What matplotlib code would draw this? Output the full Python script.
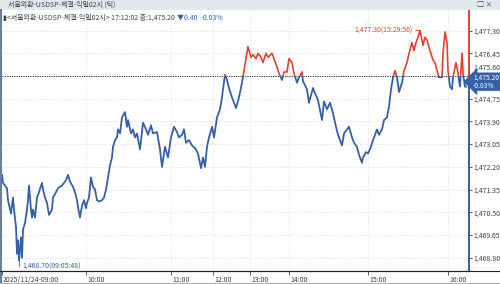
import matplotlib
matplotlib.use('Agg')
import matplotlib.pyplot as plt
from matplotlib.patches import Rectangle
from matplotlib.lines import Line2D
from matplotlib.transforms import ScaledTranslation

plt.rcParams['font.family'] = ['Noto Sans CJK KR', 'DejaVu Sans']

BLUE = '#3560a8'
RED = '#e5412d'
DARK = '#404040'

title = '서울외환-USDSP-체결-익일02시 (틱)'
info = '▮<서울외환-USDSP-체결-익일02시> 17:12:02 종:1,475.20'
change = '▼0.40  -0.03%'

# tick sequence number (x) and traded price
seq = [0, 1, 5, 6, 9, 11, 12, 14, 15, 16, 17, 19, 20, 21, 23, 25, 26, 27, 29, 30,
       31, 33, 35, 37, 40, 41, 43, 45, 47, 50, 51, 54, 56, 60, 62, 64, 66, 68, 71, 73,
       75, 76, 78, 80, 82, 84, 85, 87, 89, 91, 93, 95, 97, 100, 102, 104, 106, 108, 110, 111,
       113, 115, 116, 118, 120, 123, 125, 126, 129, 131, 133, 135, 138, 141, 144, 146, 149, 151, 155, 158,
       160, 163, 166, 169, 172, 175, 177, 180, 182, 184, 187, 190, 193, 196, 199, 201, 203, 205, 207, 210,
       212, 215, 218, 220, 221, 223, 225, 227, 230, 234, 237, 240, 242, 245, 246, 249, 251, 254, 256, 259,
       261, 264, 266, 270, 272, 275, 277, 280, 282, 285, 287, 290, 292, 295, 297, 300, 301, 305, 307, 311,
       313, 316, 320, 322, 325, 328, 331, 334, 336, 340, 342, 345, 347, 350, 352, 355, 357, 360, 361, 364,
       366, 369, 371, 375, 377, 380, 382, 385, 387, 389, 391, 393, 395, 397, 400, 402, 405, 407, 410, 412,
       414, 416, 418, 421, 423, 425, 428, 431, 433, 435, 437, 440, 441, 443, 445, 446, 448, 450, 451, 454,
       456, 458, 460, 461, 463, 464]
price = [1471.90, 1471.60, 1471.40, 1470.95, 1470.45, 1471.05, 1470.60, 1469.95, 1468.95, 1469.45,
         1468.70, 1469.55, 1468.80, 1469.85, 1470.10, 1470.60, 1470.95, 1471.50, 1470.60, 1470.30,
         1470.60, 1470.30, 1471.05, 1471.25, 1471.60, 1471.35, 1471.05, 1470.85, 1470.40, 1470.60,
         1471.05, 1471.25, 1471.40, 1471.50, 1471.60, 1471.70, 1471.90, 1471.65, 1471.45, 1471.25,
         1470.95, 1470.70, 1470.30, 1470.75, 1470.95, 1470.65, 1470.85, 1471.05, 1471.80, 1471.45,
         1471.35, 1470.95, 1470.90, 1470.95, 1471.05, 1471.35, 1471.80, 1472.25, 1472.55, 1472.95,
         1473.20, 1473.30, 1473.60, 1473.45, 1474.05, 1474.25, 1473.70, 1473.95, 1473.45, 1473.60,
         1473.30, 1473.45, 1472.85, 1473.85, 1473.60, 1473.40, 1473.75, 1473.45, 1473.50, 1472.85,
         1472.20, 1472.95, 1472.55, 1473.30, 1473.70, 1473.50, 1473.30, 1473.40, 1473.60, 1473.10,
         1473.20, 1473.00, 1472.90, 1472.70, 1472.15, 1472.55, 1472.20, 1472.95, 1473.30, 1473.70,
         1473.30, 1474.05, 1474.35, 1474.80, 1475.10, 1475.65, 1475.45, 1475.15, 1474.80, 1474.40,
         1474.80, 1475.35, 1475.80, 1476.50, 1476.70, 1476.30, 1476.40, 1476.25, 1476.45, 1476.30,
         1476.10, 1476.45, 1476.30, 1476.45, 1476.25, 1475.95, 1475.70, 1475.45, 1475.75, 1475.75,
         1476.25, 1476.10, 1475.70, 1475.35, 1475.55, 1475.75, 1475.40, 1475.10, 1474.60, 1475.15,
         1474.95, 1474.70, 1473.95, 1474.65, 1474.35, 1474.60, 1474.20, 1473.70, 1473.40, 1473.00,
         1473.45, 1473.60, 1473.70, 1473.30, 1473.10, 1472.95, 1472.65, 1472.35, 1472.55, 1472.75,
         1472.70, 1472.95, 1473.20, 1473.60, 1473.40, 1473.60, 1473.95, 1474.05, 1474.45, 1475.10,
         1475.55, 1475.80, 1475.55, 1475.00, 1475.35, 1475.80, 1476.10, 1476.45, 1476.85, 1476.55,
         1476.85, 1477.05, 1477.30, 1476.75, 1477.05, 1476.95, 1476.55, 1476.20, 1476.10, 1475.80,
         1475.55, 1475.55, 1476.45, 1477.25, 1476.85, 1475.80, 1475.20, 1475.10, 1475.55, 1476.10,
         1475.70, 1475.20, 1476.45, 1475.70, 1475.20, 1475.20]

prev_close = 1475.60
hour_pos = [0, 84, 169, 211, 248, 287, 366, 446]
hour_labels = ['2025/11/24-09:00', '10:00', '11:00', '12:00', '13:00', '14:00', '15:00', '16:00']
y_ticks = [1468.80, 1469.65, 1470.50, 1471.35, 1472.20, 1473.05, 1473.90,
           1474.75, 1475.60, 1476.45, 1477.30]
max_label = '1,477.30(15:29:56)'
min_label = '1,468.70(09:05:48)'
last_label = '1,475.20\n-0.03%'

y_lo, y_hi = 1468.30, 1478.07
x_lo, x_hi = 0, 467

fig = plt.figure(figsize=(5, 2.84), dpi=100)
ax = fig.add_axes([2 / 500, 13 / 284, 467 / 500, 261 / 284])
ax.set_xlim(x_lo, x_hi)
ax.set_ylim(y_lo, y_hi)

# title bar
fig.patches.append(Rectangle((0, 1 - 10 / 284), 1, 10 / 284, transform=fig.transFigure,
                             facecolor='#e3e8ee', edgecolor='none'))
fig.text(8 / 500, 1 - 5 / 284, title, fontsize=5, color=DARK, va='center')
fig.text(0.985, 1 - 5 / 284, '□ ×', fontsize=5, color=DARK, va='center', ha='right')
fig.add_artist(Line2D([0.002, 0.002], [0, 1 - 10 / 284], color='#6a7fa0', lw=1.5))

# grid
for v in y_ticks:
    ax.axhline(v, color='#d6d6d6', lw=0.6, ls=(0, (1, 2)), zorder=0)
for p in hour_pos[1:]:
    ax.axvline(p, color='#d6d6d6', lw=0.6, ls=(0, (1, 2)), zorder=0)
ax.axhline(prev_close, color='#333333', lw=0.7, ls=(0, (1.2, 1.2)), zorder=1)

# price line, red above previous close, blue below
up_clip = Rectangle((x_lo - 5, prev_close), x_hi + 10, y_hi - prev_close + 5, transform=ax.transData)
dn_clip = Rectangle((x_lo - 5, y_lo - 5), x_hi + 10, prev_close - y_lo + 5, transform=ax.transData)
blue_line, = ax.plot(seq, price, color=BLUE, lw=1.3, zorder=3)
red_line, = ax.plot(seq, price, color=RED, lw=1.2, zorder=3)
blue_line.set_clip_path(dn_clip)
red_line.set_clip_path(up_clip)

# right edge line
ax.plot([x_hi, x_hi], [prev_close, y_hi], color=RED, lw=1.4, clip_on=False, zorder=4)
ax.plot([x_hi, x_hi], [y_lo, prev_close], color=BLUE, lw=1.4, clip_on=False, zorder=4)

# axes
for s in ['top', 'left', 'right']:
    ax.spines[s].set_visible(False)
ax.spines['bottom'].set_color('#222222')
ax.spines['bottom'].set_linewidth(0.8)
fig.add_artist(Line2D([0, 1], [13 / 284, 13 / 284], color='#222222', lw=0.8))
fig.add_artist(Line2D([0, 1], [1 / 284, 1 / 284], color='#b0b0b0', lw=0.8))

ax.set_xticks(hour_pos)
ax.set_xticklabels(hour_labels, ha='left', fontsize=5, color=DARK)
ax.tick_params(axis='x', direction='out', length=3, width=0.6, pad=0.5, color='#444444')
for lbl in ax.get_xticklabels():
    lbl.set_transform(lbl.get_transform() + ScaledTranslation(1 / 100, 0, fig.dpi_scale_trans))

ax.yaxis.tick_right()
ax.set_yticks(y_ticks)
ax.set_yticklabels(['{:,.2f}'.format(v) for v in y_ticks], fontsize=5, color=DARK)
ax.tick_params(axis='y', direction='out', length=2, width=0.6, pad=1, color='#444444')
for v, lbl in zip(y_ticks, ax.get_yticklabels()):
    if v == prev_close:
        lbl.set_transform(lbl.get_transform() + ScaledTranslation(0, 9 / 100, fig.dpi_scale_trans))

# header info inside plot
t1 = ax.text(0.003, 0.985, info, transform=ax.transAxes, fontsize=5, color=DARK, va='top', ha='left')
ax.annotate(change, xy=(1, 0), xycoords=t1, xytext=(2, 0), textcoords='offset pixels',
            fontsize=5, color=BLUE, va='bottom', ha='left')

# max / min annotations
i_max = price.index(max(price))
i_min = price.index(min(price))
ax.annotate(max_label, xy=(seq[i_max], price[i_max]), xytext=(-7, 0), textcoords='offset pixels',
            fontsize=5, color=RED, ha='right', va='center',
            arrowprops=dict(arrowstyle='-', color=RED, lw=0.6, shrinkA=0, shrinkB=0,
                            relpos=(1, 0.5)))
ax.annotate(min_label, xy=(seq[i_min], price[i_min]), xytext=(3, -6), textcoords='offset pixels',
            fontsize=5, color=BLUE, ha='left', va='center',
            arrowprops=dict(arrowstyle='-', color=BLUE, lw=0.6, shrinkA=0, shrinkB=0,
                            relpos=(0, 0.5),
                            connectionstyle='angle,angleA=0,angleB=90,rad=0'))

# last price box
ax.annotate(last_label, xy=(x_hi, price[-1]), xytext=(4, 5), textcoords='offset pixels',
            fontsize=4.8, color='white', ha='left', va='center', linespacing=0.95,
            annotation_clip=False,
            bbox=dict(boxstyle='larrow,pad=0.2', fc=BLUE, ec='none'), zorder=6)

fig.savefig('out.png', dpi=100)
